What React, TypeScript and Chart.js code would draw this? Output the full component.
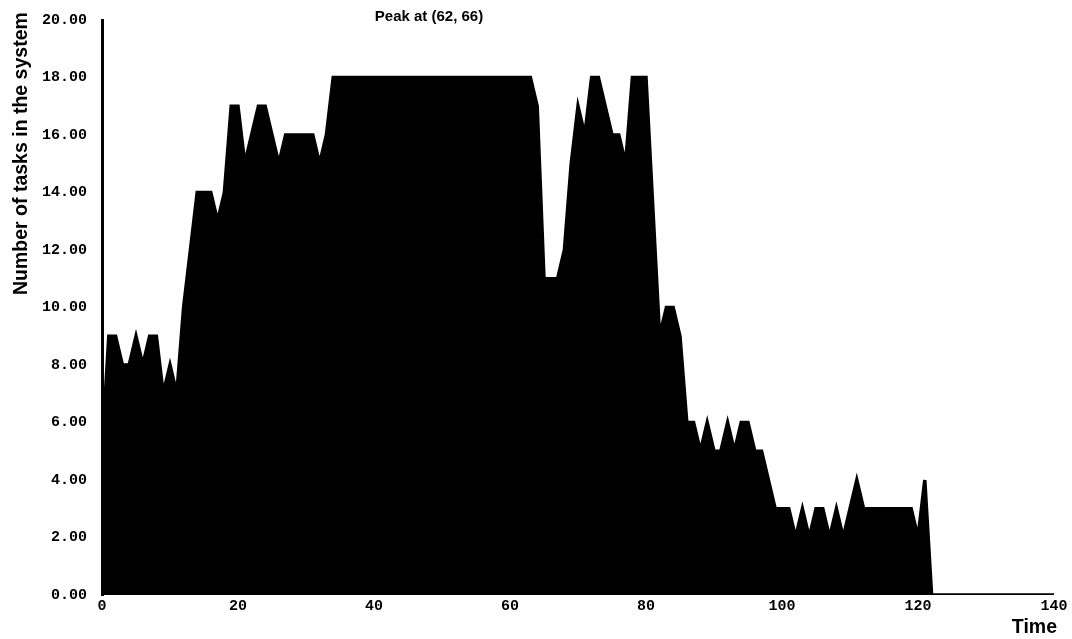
import React, { useEffect, useRef } from "react";
import { Chart, registerables } from "chart.js";

Chart.register(...registerables);

// Time (x) breakpoints and number of tasks (y)
const times = [
  0, 1, 2, 3, 4, 5, 6, 7, 8, 9, 10, 11, 12, 13, 14, 15, 16, 17, 18, 19, 20,
  21, 22, 23, 24, 25, 26, 27, 28, 29, 30, 31, 32, 33, 34, 63, 64, 65, 66, 67,
  68, 69, 70, 71, 72, 73, 75, 76, 77, 78, 79, 80, 82, 83, 84, 85, 86, 87, 88,
  89, 90, 91, 92, 93, 94, 95, 96, 97, 99, 100, 101, 102, 103, 104, 105, 106,
  107, 108, 109, 111, 112, 119, 120, 121, 122, 140,
];
const tasks = [
  5, 9, 9, 8, 8, 9, 8, 9, 9, 7, 8, 7, 10, 12, 14, 14, 14, 13, 14, 17, 17,
  15, 16, 17, 17, 16, 15, 16, 16, 16, 16, 16, 15, 16, 18, 18, 17, 11, 11, 11,
  12, 15, 17, 16, 18, 18, 16, 16, 15, 18, 18, 18, 9, 10, 10, 9, 6, 6, 5,
  6, 5, 5, 6, 5, 6, 6, 5, 5, 3, 3, 3, 2, 3, 2, 3, 3,
  2, 3, 2, 4, 3, 3, 2, 4, 0, 0,
];

const xTickValues = [0, 20, 40, 60, 80, 100, 120, 140];
const yTickValues = [0, 2, 4, 6, 8, 10, 12, 14, 16, 18, 20];

const chartTitle = "Peak at (62, 66)";
const xTitle = "Time";
const yTitle = "Number of tasks in the system";

const tickFont = { family: "'Liberation Mono', 'Courier New', monospace", size: 15, weight: "bold" as const };
const titleFamily = "'Liberation Sans', Arial, Helvetica, sans-serif";

const titlesPlugin = {
  id: "customTitles",
  afterDraw(chart: any) {
    const { ctx, chartArea } = chart;
    ctx.save();
    ctx.fillStyle = "#000";
    // chart title
    ctx.font = `bold 15px ${titleFamily}`;
    ctx.textAlign = "center";
    ctx.textBaseline = "alphabetic";
    ctx.fillText(chartTitle, chartArea.left + 327, chartArea.top + 1);
    // x title
    ctx.font = `bold 19.5px ${titleFamily}`;
    ctx.textAlign = "right";
    ctx.fillText(xTitle, chartArea.right + 3, chartArea.bottom + 38);
    // y title
    ctx.translate(chartArea.left - 75, chartArea.top + 275);
    ctx.rotate(-Math.PI / 2);
    ctx.textAlign = "left";
    ctx.fillText(yTitle, 0, 0);
    ctx.restore();
  },
};

export default function App() {
  const canvasRef = useRef<HTMLCanvasElement | null>(null);

  useEffect(() => {
    if (!canvasRef.current) return;
    const points = times.map((t, i) => ({ x: t, y: tasks[i] }));
    const chart = new Chart(canvasRef.current, {
      type: "line",
      data: {
        datasets: [
          {
            data: points,
            borderColor: "#000",
            backgroundColor: "#000",
            borderWidth: 3.5,
            fill: "origin",
            pointRadius: 0,
            tension: 0,
          },
        ],
      },
      options: {
        animation: false,
        responsive: false,
        layout: { padding: { top: 20, right: 18, left: 0, bottom: 0 } },
        plugins: {
          legend: { display: false },
          tooltip: { enabled: false },
          title: { display: false },
        },
        scales: {
          x: {
            type: "linear",
            min: 0,
            max: 140,
            afterBuildTicks: (scale: any) => {
              scale.ticks = xTickValues.map((v) => ({ value: v }));
            },
            afterFit: (scale: any) => {
              scale.height = 44;
            },
            grid: { display: false },
            border: { display: false },
            ticks: {
              color: "#000",
              font: tickFont,
              padding: -6,
              maxRotation: 0,
              callback: (v: any) => String(v),
            },
          },
          y: {
            type: "linear",
            min: 0,
            max: 20,
            afterBuildTicks: (scale: any) => {
              scale.ticks = yTickValues.map((v) => ({ value: v }));
            },
            afterFit: (scale: any) => {
              scale.width = 102;
            },
            grid: { display: false },
            border: { display: true, color: "#000", width: 3 },
            ticks: {
              color: "#000",
              font: tickFont,
              padding: 7,
              callback: (v: any) => Number(v).toFixed(2),
            },
          },
        },
      },
      plugins: [titlesPlugin],
    });
    return () => chart.destroy();
  }, []);

  return (
    <div style={{ position: "absolute", left: 0, top: 0, width: 1072, height: 639, background: "#fff" }}>
      <canvas ref={canvasRef} width={1072} height={639} />
    </div>
  );
}
